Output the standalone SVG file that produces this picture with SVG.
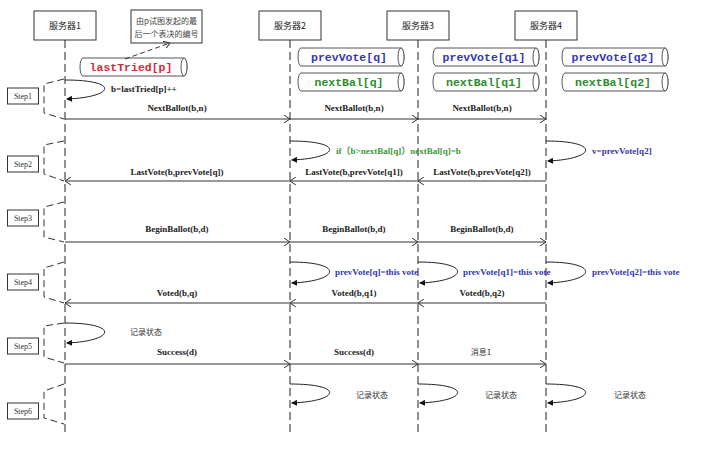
<svg xmlns="http://www.w3.org/2000/svg" width="704" height="452" viewBox="0 0 704 452">
  <style>
    .box { fill: #fff; stroke: #333; stroke-width: 1; }
    .hdr { font-family: "Noto Sans CJK SC", sans-serif; font-size: 9px; fill: #222; text-anchor: middle; }
    .note { font-family: "Noto Sans CJK SC", sans-serif; font-size: 8px; fill: #444; text-anchor: middle; }
    .step { font-family: "Liberation Serif", serif; font-size: 8px; fill: #333; text-anchor: middle; }
    .life { stroke: #222; stroke-width: 1; stroke-dasharray: 8 4; fill: none; }
    .trap { stroke: #333; stroke-width: 1; stroke-dasharray: 7 4; fill: none; }
    .msg { stroke: #333; stroke-width: 1; fill: none; marker-end: url(#open); }
    .loop { stroke: #222; stroke-width: 1; fill: none; marker-end: url(#solid); }
    .lbl { font-family: "Liberation Serif", "Noto Sans CJK SC", serif; font-size: 9px; font-weight: bold; fill: #222; }
    .mid { text-anchor: middle; }
    .blue { fill: #3535b0; }
    .green { fill: #3a9a3a; }
    .cn { font-family: "Noto Sans CJK SC", sans-serif; font-size: 8px; fill: #333; }
    .cyl { fill: #fff; stroke: #555; stroke-width: 1; }
    .mono { font-family: "Liberation Mono", monospace; font-size: 11.5px; font-weight: bold; text-anchor: middle; }
  </style>
  <defs>
    <marker id="open" viewBox="0 0 6 8" refX="6" refY="4" markerWidth="6" markerHeight="8" orient="auto" markerUnits="userSpaceOnUse">
      <path d="M0,0 L6,4 L0,8" fill="none" stroke="#333" stroke-width="1"/>
    </marker>
    <marker id="solid" viewBox="0 0 6 6" refX="5" refY="3" markerWidth="6" markerHeight="6" orient="auto" markerUnits="userSpaceOnUse">
      <path d="M0,0 L6,3 L0,6 Z" fill="#111"/>
    </marker>
  </defs>

  <rect width="704" height="452" fill="#fff"/>

  <!-- participants -->
  <g id="server1"><rect class="box" x="34" y="11" width="62" height="29"/><text class="hdr" x="65" y="29">服务器1</text></g>
  <g id="server2"><rect class="box" x="259" y="11" width="62" height="29"/><text class="hdr" x="290" y="29">服务器2</text></g>
  <g id="server3"><rect class="box" x="387" y="11" width="62" height="29"/><text class="hdr" x="418" y="29">服务器3</text></g>
  <g id="server4"><rect class="box" x="515" y="11" width="62" height="29"/><text class="hdr" x="546" y="29">服务器4</text></g>

  <!-- annotation -->
  <g id="note">
    <rect class="box" x="131" y="10" width="71" height="33"/>
    <text class="note" x="166.5" y="24">由p试图发起的最</text>
    <text class="note" x="166.5" y="37">后一个表决的编号</text>
  </g>

  <!-- state variables (horizontal cylinders) -->
  <g id="lastTried">
    <path class="cyl" d="M83,58 H184 A3,9 0 0 1 184,76 H83 A3,9 0 0 1 83,58 Z"/>
    <ellipse class="cyl" cx="184" cy="67" rx="3" ry="9"/>
    <text class="mono" x="131" y="71" fill="#d42a3a">lastTried[p]</text>
  </g>
  <g id="prevVote-q">
    <path class="cyl" d="M301,48 H401 A3,9 0 0 1 401,66 H301 A3,9 0 0 1 301,48 Z"/>
    <ellipse class="cyl" cx="401" cy="57" rx="3" ry="9"/>
    <text class="mono" x="349" y="61" fill="#3535b5">prevVote[q]</text>
  </g>
  <g id="nextBal-q">
    <path class="cyl" d="M301,73 H401 A3,9 0 0 1 401,91 H301 A3,9 0 0 1 301,73 Z"/>
    <ellipse class="cyl" cx="401" cy="82" rx="3" ry="9"/>
    <text class="mono" x="349" y="86" fill="#2e8b2e">nextBal[q]</text>
  </g>
  <g id="prevVote-q1">
    <path class="cyl" d="M436,48 H536 A3,9 0 0 1 536,66 H436 A3,9 0 0 1 436,48 Z"/>
    <ellipse class="cyl" cx="536" cy="57" rx="3" ry="9"/>
    <text class="mono" x="484" y="61" fill="#3535b5">prevVote[q1]</text>
  </g>
  <g id="nextBal-q1">
    <path class="cyl" d="M436,73 H536 A3,9 0 0 1 536,91 H436 A3,9 0 0 1 436,73 Z"/>
    <ellipse class="cyl" cx="536" cy="82" rx="3" ry="9"/>
    <text class="mono" x="484" y="86" fill="#2e8b2e">nextBal[q1]</text>
  </g>
  <g id="prevVote-q2">
    <path class="cyl" d="M565,48 H665 A3,9 0 0 1 665,66 H565 A3,9 0 0 1 565,48 Z"/>
    <ellipse class="cyl" cx="665" cy="57" rx="3" ry="9"/>
    <text class="mono" x="613" y="61" fill="#3535b5">prevVote[q2]</text>
  </g>
  <g id="nextBal-q2">
    <path class="cyl" d="M565,73 H665 A3,9 0 0 1 665,91 H565 A3,9 0 0 1 565,73 Z"/>
    <ellipse class="cyl" cx="665" cy="82" rx="3" ry="9"/>
    <text class="mono" x="613" y="86" fill="#2e8b2e">nextBal[q2]</text>
  </g>

  <!-- step markers -->
  <g id="step1"><rect class="box" x="7.5" y="88" width="31" height="16"/><text class="step" x="23" y="99">Step1</text>
    <path class="trap" d="M64,79 L44,84 L44,113 L64,119"/></g>
  <g id="step2"><rect class="box" x="7.5" y="156" width="31" height="16"/><text class="step" x="23" y="167">Step2</text>
    <path class="trap" d="M64,141 L44,145 L44,174 L64,181"/></g>
  <g id="step3"><rect class="box" x="7.5" y="210" width="31" height="16"/><text class="step" x="23" y="221">Step3</text>
    <path class="trap" d="M64,202 L44,207 L44,237 L64,242"/></g>
  <g id="step4"><rect class="box" x="7.5" y="274" width="31" height="16"/><text class="step" x="23" y="285">Step4</text>
    <path class="trap" d="M64,262 L44,268 L44,297 L64,303"/></g>
  <g id="step5"><rect class="box" x="7.5" y="338" width="31" height="16"/><text class="step" x="23" y="349">Step5</text>
    <path class="trap" d="M64,323 L44,326 L44,357 L64,363"/></g>
  <g id="step6"><rect class="box" x="7.5" y="403" width="31" height="16"/><text class="step" x="23" y="414">Step6</text>
    <path class="trap" d="M64,384 L44,391 L44,418 L64,424"/></g>

  <!-- connectors -->
  <g id="connectors">
    <!-- lifelines -->
    <line class="life" x1="65" y1="40" x2="65" y2="433"/>
    <line class="life" x1="290" y1="40" x2="290" y2="433"/>
    <line class="life" x1="418" y1="40" x2="418" y2="433"/>
    <line class="life" x1="546" y1="40" x2="546" y2="433"/>

    <!-- annotation link -->
    <line x1="125" y1="59" x2="170" y2="43" stroke="#333" stroke-width="1" stroke-dasharray="5 3" marker-end="url(#open)"/>

    <!-- step 1 -->
    <path class="loop" d="M65,80 C120,80 115,97 67,99"/>
    <line class="msg" x1="65" y1="119" x2="290" y2="119"/>
    <line class="msg" x1="290" y1="119" x2="418" y2="119"/>
    <line class="msg" x1="418" y1="119" x2="546" y2="119"/>

    <!-- step 2 -->
    <path class="loop" d="M290,141 C345,141 340,158 292,160"/>
    <path class="loop" d="M546,141 C601,141 596,159 548,161"/>
    <line class="msg" x1="290" y1="181" x2="65" y2="181"/>
    <line class="msg" x1="418" y1="181" x2="290" y2="181"/>
    <line class="msg" x1="546" y1="181" x2="418" y2="181"/>

    <!-- step 3 -->
    <line class="msg" x1="65" y1="242" x2="290" y2="242"/>
    <line class="msg" x1="290" y1="242" x2="418" y2="242"/>
    <line class="msg" x1="418" y1="242" x2="546" y2="242"/>

    <!-- step 4 -->
    <path class="loop" d="M290,262 C345,262 340,281 292,283"/>
    <path class="loop" d="M418,262 C473,262 468,281 420,283"/>
    <path class="loop" d="M546,262 C601,262 596,281 548,283"/>
    <line class="msg" x1="290" y1="303" x2="65" y2="303"/>
    <line class="msg" x1="418" y1="303" x2="290" y2="303"/>
    <line class="msg" x1="546" y1="303" x2="418" y2="303"/>

    <!-- step 5 -->
    <path class="loop" d="M65,323 C120,323 115,341 67,343"/>
    <line class="msg" x1="65" y1="364" x2="290" y2="364"/>
    <line class="msg" x1="290" y1="364" x2="418" y2="364"/>
    <line class="msg" x1="418" y1="364" x2="546" y2="364"/>

    <!-- step 6 -->
    <path class="loop" d="M290,384 C345,384 340,401 292,403"/>
    <path class="loop" d="M418,384 C473,384 468,401 420,403"/>
    <path class="loop" d="M546,384 C601,384 596,401 548,403"/>
  </g>

  <!-- message and action labels -->
  <g id="labels">
    <text class="lbl" x="111" y="92">b=lastTried[p]++</text>
    <text class="lbl mid" x="177" y="111">NextBallot(b,n)</text>
    <text class="lbl mid" x="354" y="111">NextBallot(b,n)</text>
    <text class="lbl mid" x="482" y="111">NextBallot(b,n)</text>

    <text class="lbl green" x="336" y="154">if（b&gt;nextBal[q]）nextBal[q]=b</text>
    <text class="lbl blue" x="592" y="154">v=prevVote[q2]</text>
    <text class="lbl mid" x="177" y="175">LastVote(b,prevVote[q])</text>
    <text class="lbl mid" x="354" y="175">LastVote(b,prevVote[q1])</text>
    <text class="lbl mid" x="482" y="175">LastVote(b,prevVote[q2])</text>

    <text class="lbl mid" x="177" y="232">BeginBallot(b,d)</text>
    <text class="lbl mid" x="354" y="232">BeginBallot(b,d)</text>
    <text class="lbl mid" x="482" y="232">BeginBallot(b,d)</text>

    <text class="lbl blue" x="335" y="275">prevVote[q]=this vote</text>
    <text class="lbl blue" x="463" y="275">prevVote[q1]=this vote</text>
    <text class="lbl blue" x="592" y="275">prevVote[q2]=this vote</text>
    <text class="lbl mid" x="177" y="296">Voted(b,q)</text>
    <text class="lbl mid" x="354" y="296">Voted(b,q1)</text>
    <text class="lbl mid" x="482" y="296">Voted(b,q2)</text>

    <text class="cn" x="130" y="335">记录状态</text>
    <text class="lbl mid" x="177" y="355">Success(d)</text>
    <text class="lbl mid" x="354" y="355">Success(d)</text>
    <text class="cn" x="481" y="355" text-anchor="middle" font-size="9">消息1</text>

    <text class="cn" x="356" y="398">记录状态</text>
    <text class="cn" x="485" y="398">记录状态</text>
    <text class="cn" x="614" y="398">记录状态</text>
  </g>
</svg>
